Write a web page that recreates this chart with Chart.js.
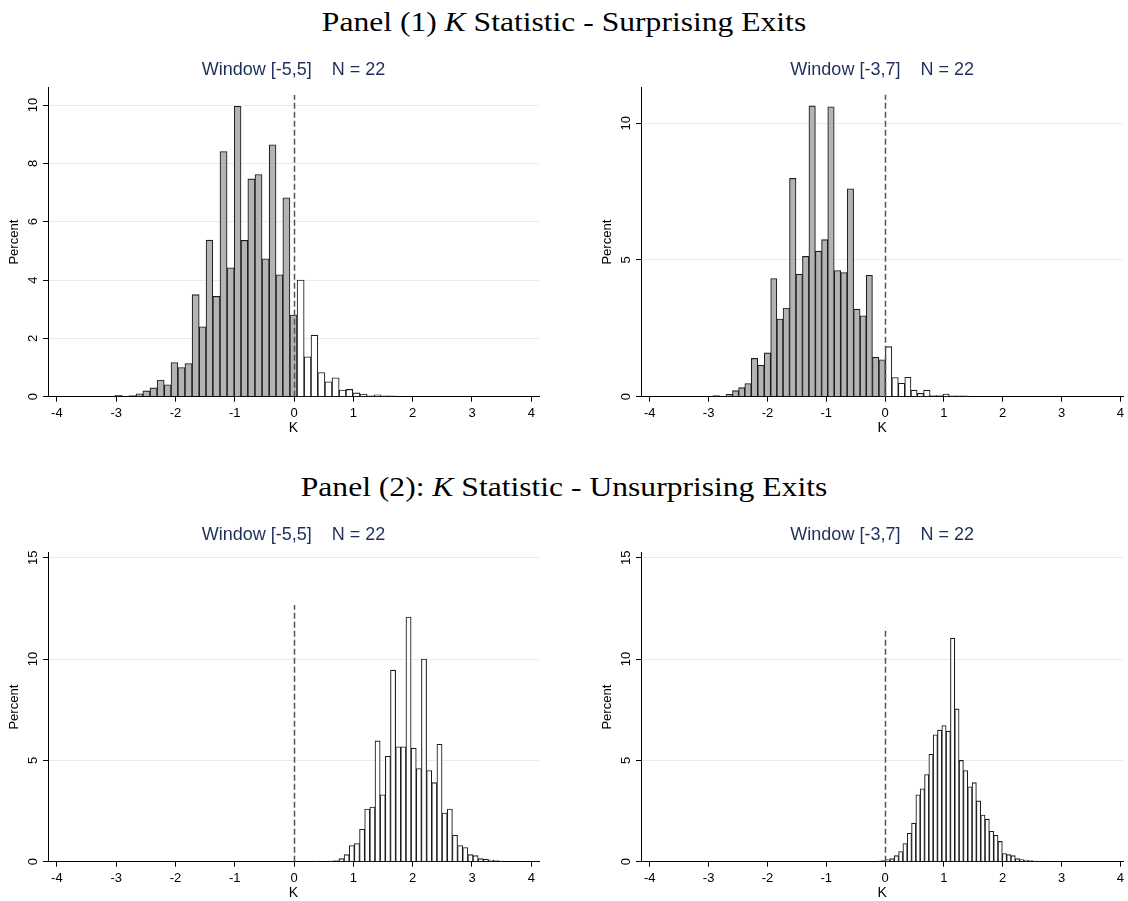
<!DOCTYPE html>
<html><head><meta charset="utf-8">
<script src="https://cdn.jsdelivr.net/npm/chart.js@4.4.1/dist/chart.umd.min.js"></script>
<style>
html,body{margin:0;padding:0;background:#fff;}
body{width:1128px;height:901px;position:relative;overflow:hidden;}
.ptitle{position:absolute;left:0;width:1128px;text-align:center;font-family:"Liberation Serif","DejaVu Serif",serif;font-size:27px;color:#000;white-space:pre;line-height:30px;transform:scaleX(1.17);transform-origin:564px 50%;}
.wrap{position:absolute;}
canvas{display:block;}
</style></head><body>
<div class="ptitle" style="top:7px">Panel (1) <i>K</i> Statistic - Surprising Exits</div>
<div class="ptitle" style="top:472px">Panel (2): <i>K</i> Statistic - Unsurprising Exits</div>
<div class="wrap" style="left:0;top:50px"><canvas id="c1" width="564" height="390"></canvas></div>
<div class="wrap" style="left:593px;top:50px"><canvas id="c2" width="535" height="390"></canvas></div>
<div class="wrap" style="left:0;top:515px"><canvas id="c3" width="564" height="390"></canvas></div>
<div class="wrap" style="left:593px;top:515px"><canvas id="c4" width="535" height="390"></canvas></div>
<script>
// ---- Data ----
const windowTitles = ['Window [-5,5]    N = 22', 'Window [-3,7]    N = 22', 'Window [-5,5]    N = 22', 'Window [-3,7]    N = 22'];
const xTickLabels = [-4, -3, -2, -1, 0, 1, 2, 3, 4];

// Panel (1), window [-5,5]: bin centres (K) and percent
const binsTL = [-2.96, -2.84, -2.72, -2.61, -2.49, -2.37, -2.25, -2.13, -2.02, -1.90,
  -1.78, -1.66, -1.54, -1.43, -1.31, -1.19, -1.07, -0.95, -0.84, -0.72,
  -0.60, -0.48, -0.36, -0.25, -0.13, -0.01, 0.11, 0.23, 0.34, 0.46,
  0.58, 0.70, 0.82, 0.93, 1.05, 1.17, 1.29, 1.41, 1.52, 1.64];
const pctTL = [0.05, 0, 0.04, 0.1, 0.2, 0.3, 0.57, 0.41, 1.17, 1.0,
  1.14, 3.5, 2.4, 5.37, 3.44, 8.41, 4.42, 9.96, 5.36, 7.47,
  7.62, 4.73, 8.64, 4.18, 6.82, 2.8, 4.0, 1.37, 2.11, 0.83,
  0.51, 0.65, 0.23, 0.25, 0.13, 0.09, 0.03, 0.06, 0.03, 0.03];

// Panel (1), window [-3,7]
const binsTR = [-2.87, -2.76, -2.65, -2.54, -2.44, -2.33, -2.22, -2.11, -2.00, -1.89,
  -1.79, -1.68, -1.57, -1.46, -1.35, -1.24, -1.13, -1.03, -0.92, -0.81,
  -0.70, -0.59, -0.48, -0.37, -0.27, -0.16, -0.05, 0.06, 0.17, 0.28,
  0.39, 0.49, 0.60, 0.71, 0.82, 0.93, 1.04, 1.14, 1.25, 1.36];
const pctTR = [0.04, 0, 0.09, 0.22, 0.33, 0.48, 1.40, 1.15, 1.60, 4.32,
  2.84, 3.24, 7.98, 4.48, 5.13, 10.63, 5.32, 5.74, 10.6, 4.61,
  4.54, 7.6, 3.2, 2.96, 4.44, 1.44, 1.35, 1.83, 0.70, 0.49,
  0.71, 0.24, 0.12, 0.24, 0.04, 0.04, 0.1, 0.03, 0.03, 0.03];

// Panel (2), window [-5,5]
const binsBL = [0.364, 0.451, 0.538, 0.625, 0.712, 0.799, 0.886, 0.973, 1.060, 1.147,
  1.234, 1.321, 1.408, 1.495, 1.582, 1.669, 1.756, 1.843, 1.930, 2.017,
  2.104, 2.191, 2.278, 2.365, 2.452, 2.539, 2.626, 2.713, 2.800, 2.887,
  2.974, 3.061, 3.148, 3.235, 3.322, 3.409, 3.496];
const pctBL = [0.03, 0, 0, 0.03, 0.05, 0.15, 0.35, 0.8, 0.9, 1.6,
  2.6, 2.7, 5.96, 3.3, 5.2, 9.45, 5.67, 5.67, 12.07, 5.6,
  4.6, 10.0, 4.5, 3.9, 5.79, 2.4, 2.6, 1.3, 0.8, 0.7,
  0.35, 0.3, 0.15, 0.12, 0.08, 0.05, 0.03];

// Panel (2), window [-3,7]
const binsBR = [-0.1015, -0.028, 0.0455, 0.119, 0.1925, 0.266, 0.3395, 0.413, 0.4865, 0.56,
  0.6335, 0.707, 0.7805, 0.854, 0.9275, 1.001, 1.0745, 1.148, 1.2215, 1.295,
  1.3685, 1.442, 1.5155, 1.589, 1.6625, 1.736, 1.8095, 1.883, 1.9565, 2.03,
  2.1035, 2.177, 2.2505, 2.324, 2.3975, 2.471, 2.5445, 2.618];
const pctBR = [0.03, 0.05, 0.1, 0.15, 0.3, 0.5, 0.9, 1.4, 1.9, 3.3,
  3.6, 4.3, 5.3, 6.26, 6.49, 6.72, 6.44, 11.03, 7.54, 5.0,
  4.5, 3.7, 3.9, 3.0, 2.3, 2.1, 1.5, 1.3, 1.0, 0.4,
  0.35, 0.3, 0.15, 0.1, 0.08, 0.05, 0.03, 0.03];

const yTickStep = [2, 5, 5, 5];
const yMaxVal = [10.6, 11.3, 15.25, 15.25];
const refLineTop = [10.35, 11.04, 12.66, 11.55];

// ---- Plugins ----
const refLinePlugin = {
  id: 'refLine',
  afterDatasetsDraw(chart, args, opts) {
    const {ctx} = chart; const x = chart.scales.x, y = chart.scales.y;
    const px = Math.round(x.getPixelForValue(0)) + 0.5;
    ctx.save();
    ctx.strokeStyle = '#555'; ctx.lineWidth = 1.5; ctx.setLineDash([6, 3]);
    ctx.beginPath();
    ctx.moveTo(px, y.getPixelForValue(0));
    ctx.lineTo(px, y.getPixelForValue(opts.top));
    ctx.stroke();
    ctx.restore();
  }
};
const yLabelPlugin = {
  id: 'yLabels',
  afterDraw(chart) {
    const y = chart.scales.y; const ctx = chart.ctx;
    ctx.save();
    ctx.font = '13px "Liberation Sans", Arial, sans-serif';
    ctx.fillStyle = '#000'; ctx.textAlign = 'center'; ctx.textBaseline = 'middle';
    y.ticks.forEach(t => {
      const py = y.getPixelForValue(t.value);
      ctx.save(); ctx.translate(chart.chartArea.left - 14.5, py); ctx.rotate(-Math.PI / 2);
      ctx.fillText(String(t.value), 0, 0); ctx.restore();
    });
    ctx.restore();
  }
};

const FONT = '"Liberation Sans", Arial, Helvetica, sans-serif';

function makeChart(id, bins, pct, idx, right) {
  const data = bins.map((b, i) => ({x: b, y: pct[i]}));
  const xMax = right ? 4.05 : 4.13;
  new Chart(document.getElementById(id), {
    type: 'bar',
    data: {datasets: [{
      data,
      backgroundColor: bins.map(b => b < 0 ? '#b3b3b3' : '#ffffff'),
      borderColor: '#1c1c1c', borderWidth: 1.1,
      barPercentage: 1, categoryPercentage: 1, barThickness: 'flex'
    }]},
    options: {
      responsive: false, animation: false, events: [],
      layout: {padding: {left: 0, right: right ? 1 : 25, top: 0, bottom: 0}},
      plugins: {
        legend: {display: false}, tooltip: {enabled: false},
        title: {display: true, text: windowTitles[idx], fullSize: false, color: '#1f2f5c',
          font: {family: FONT, size: 18, weight: 'normal'}, padding: {top: 9, bottom: 7}},
        refLine: {top: refLineTop[idx]}
      },
      scales: {
        x: {
          type: 'linear', min: -4.15, max: xMax, offset: false,
          ticks: {stepSize: 1, includeBounds: false, color: '#000', font: {family: FONT, size: 13},
            padding: 4, maxRotation: 0, autoSkip: false,
            callback: (v) => xTickLabels.includes(v) ? String(v) : ''},
          grid: {display: true, drawOnChartArea: false, drawTicks: true, tickLength: 5, tickColor: '#000', offset: false},
          border: {display: true, color: '#000', width: 1},
          title: {display: true, text: 'K', color: '#000', font: {family: FONT, size: 14}, padding: {top: 0, bottom: 3}},
          afterFit(s) { s.height = 43.3; }
        },
        y: {
          min: 0, max: yMaxVal[idx],
          ticks: {stepSize: yTickStep[idx], includeBounds: false, display: false},
          grid: {color: '#e4ecef', lineWidth: 1, drawTicks: true, tickLength: 5, tickColor: '#000'},
          border: {display: true, color: '#000', width: 1},
          title: {display: true, text: 'Percent', color: '#000', font: {family: FONT, size: 13}, padding: {top: 7, bottom: 0}},
          afterFit(s) { s.width = 48; }
        }
      }
    },
    plugins: [refLinePlugin, yLabelPlugin]
  });
}

makeChart('c1', binsTL, pctTL, 0, false);
makeChart('c2', binsTR, pctTR, 1, true);
makeChart('c3', binsBL, pctBL, 2, false);
makeChart('c4', binsBR, pctBR, 3, true);
</script>
</body></html>
